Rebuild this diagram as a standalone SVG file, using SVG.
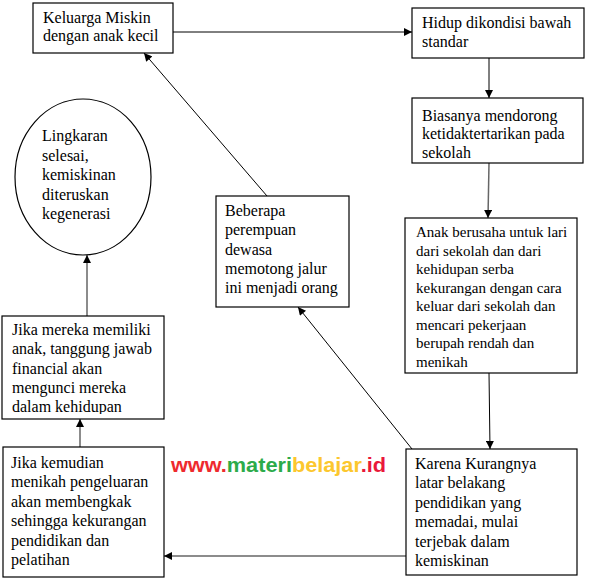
<svg xmlns="http://www.w3.org/2000/svg" width="589" height="579" viewBox="0 0 589 579">
<style>
.box{fill:#fff;stroke:#000;stroke-width:1.2}
.t{font-family:"Liberation Serif","Times New Roman",serif;font-size:16px;fill:#000}
.s{font-size:15px}
.c{fill:none;stroke:#000;stroke-width:1}
.g{fill:none;stroke:#666;stroke-width:1.5}
.wm{font-family:"Comic Sans MS","Liberation Sans",sans-serif;font-size:20px;font-weight:bold}
</style>
<defs>
<marker id="ah" viewBox="0 0 10 10" refX="10" refY="5" markerWidth="9" markerHeight="8" markerUnits="userSpaceOnUse" orient="auto">
<path d="M0,0 L10,5 L0,10 Z" fill="#000"/>
</marker>
<clipPath id="clip7"><rect x="2" y="316" width="162" height="98"/></clipPath>
</defs>
<rect width="589" height="579" fill="#fff"/>
<g id="connectors">
<line class="c" x1="173" y1="32" x2="412" y2="32" marker-end="url(#ah)"/>
<line class="c" x1="489" y1="58" x2="489" y2="98" marker-end="url(#ah)"/>
<line class="g" x1="489" y1="163" x2="488" y2="218" marker-end="url(#ah)"/>
<line class="c" x1="489" y1="373" x2="490" y2="449" marker-end="url(#ah)"/>
<line class="g" x1="406" y1="556" x2="164" y2="556" marker-end="url(#ah)"/>
<line class="g" x1="80" y1="447" x2="80" y2="419" marker-end="url(#ah)"/>
<line class="g" x1="87" y1="316" x2="87" y2="255" marker-end="url(#ah)"/>
<line class="c" x1="412" y1="449" x2="298" y2="307" marker-end="url(#ah)"/>
<line class="c" x1="267" y1="196" x2="144" y2="53" marker-end="url(#ah)"/>
</g>
<g id="n1">
<rect class="box" x="33" y="3" width="140" height="50"/>
<text class="t" x="43" y="23">Keluarga  Miskin</text>
<text class="t" x="43" y="41">dengan anak kecil</text>
</g>
<g id="n2">
<rect class="box" x="412" y="8" width="172" height="50"/>
<text class="t" x="422" y="28">Hidup dikondisi bawah</text>
<text class="t" x="422" y="47">standar</text>
</g>
<g id="n3">
<rect class="box" x="412" y="98" width="171" height="65"/>
<text class="t" x="422" y="121">Biasanya mendorong</text>
<text class="t" x="422" y="139">ketidaktertarikan pada</text>
<text class="t" x="422" y="158">sekolah</text>
</g>
<g id="n4">
<rect class="box" x="405" y="218" width="172" height="155"/>
<text class="t s" x="416" y="237">Anak berusaha untuk lari</text>
<text class="t s" x="416" y="255.5">dari sekolah dan dari</text>
<text class="t s" x="416" y="274">kehidupan serba</text>
<text class="t s" x="416" y="292.5">kekurangan dengan cara</text>
<text class="t s" x="416" y="311">keluar dari sekolah dan</text>
<text class="t s" x="416" y="329.5">mencari pekerjaan</text>
<text class="t s" x="416" y="348">berupah rendah dan</text>
<text class="t s" x="416" y="366.5">menikah</text>
</g>
<g id="n5">
<rect class="box" x="406" y="449" width="171" height="126"/>
<text class="t" x="415" y="469">Karena Kurangnya</text>
<text class="t" x="415" y="488.4">latar belakang</text>
<text class="t" x="415" y="507.8">pendidikan yang</text>
<text class="t" x="415" y="527.2">memadai, mulai</text>
<text class="t" x="415" y="546.6">terjebak  dalam</text>
<text class="t" x="415" y="566">kemiskinan</text>
</g>
<g id="n6">
<rect class="box" x="3" y="447" width="161" height="130"/>
<text class="t" x="11" y="468">Jika kemudian</text>
<text class="t" x="11" y="487.4">menikah pengeluaran</text>
<text class="t" x="11" y="506.8">akan membengkak</text>
<text class="t" x="11" y="526.2">sehingga kekurangan</text>
<text class="t" x="11" y="545.6">pendidikan dan</text>
<text class="t" x="11" y="565">pelatihan</text>
</g>
<g id="n7">
<rect class="box" x="2" y="316" width="162" height="103"/>
<g clip-path="url(#clip7)">
<text class="t" x="12" y="335">Jika mereka memiliki</text>
<text class="t" x="12" y="354.3">anak, tanggung jawab</text>
<text class="t" x="12" y="373.6">financial akan</text>
<text class="t" x="12" y="392.9">mengunci mereka</text>
<text class="t" x="12" y="412.2">dalam kehidupan</text>
</g>
</g>
<g id="n8">
<ellipse class="box" cx="83" cy="177" rx="68" ry="78"/>
<text class="t" x="42" y="141">Lingkaran</text>
<text class="t" x="42" y="160.5">selesai,</text>
<text class="t" x="42" y="180">kemiskinan</text>
<text class="t" x="42" y="199.5">diteruskan</text>
<text class="t" x="42" y="219">kegenerasi</text>
</g>
<g id="n9">
<rect class="box" x="216" y="196" width="133" height="111"/>
<text class="t" x="225" y="216">Beberapa</text>
<text class="t" x="225" y="235.3">perempuan</text>
<text class="t" x="225" y="254.6">dewasa</text>
<text class="t" x="225" y="273.9">memotong jalur</text>
<text class="t" x="225" y="293.2">ini menjadi orang</text>
</g>
<text class="wm" x="171" y="472" textLength="215" lengthAdjust="spacingAndGlyphs"><tspan fill="#ee2a2e">www.</tspan><tspan fill="#2cab4a">materi</tspan><tspan fill="#fcc72e">belajar</tspan><tspan fill="#e9183a">.id</tspan></text>
</svg>
